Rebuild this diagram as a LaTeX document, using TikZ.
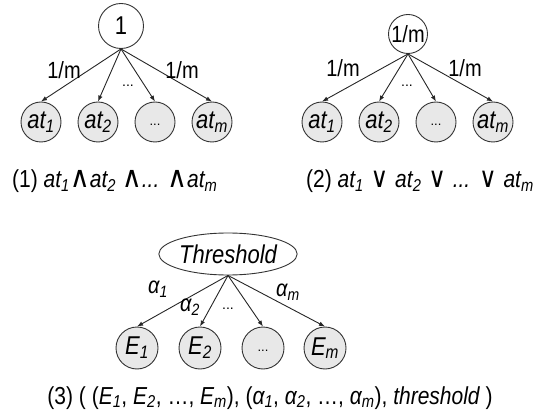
\documentclass[tikz,border=0pt]{standalone}
\usepackage{graphicx}
\usepackage{fontspec}
\setmainfont{Liberation Sans}
\newfontfamily\symfont{DejaVu Sans}
\usetikzlibrary{arrows.meta,shapes.geometric}
% text is set slightly narrow: stretch it vertically
\newcommand\tallt[1]{\scalebox{1}[1.17]{#1}}
\newcommand\isub[1]{\textsubscript{\itshape #1}}
\newcommand\andop{{\symfont\scalebox{1.3}[1.2]{∧}}}
\newcommand\orop{\hspace{1pt}{\symfont\scalebox{1.15}{∨}}\hspace{1pt}}
\newcommand\leafdots{\raisebox{-7pt}{\fontsize{13}{13}\selectfont ...}}
\begin{document}
\begin{tikzpicture}[x=1pt,y=-1pt,
  every node/.style={font=\fontsize{22}{24}\selectfont, inner sep=0pt},
  rootnode/.style={circle, draw=black!80, line width=0.9pt, fill=white},
  leaf/.style={circle, draw=black!80, line width=0.9pt, fill=black!9, minimum size=40pt},
  edge/.style={draw=black!85, line width=0.9pt, -{Latex[length=6pt,width=4.5pt]}},
  wlabel/.style={font=\fontsize{20}{22}\selectfont},
  gapdots/.style={font=\fontsize{14}{14}\selectfont},
  caption/.style={font=\fontsize{21}{23}\selectfont, anchor=base west}]
\useasboundingbox (0,0) rectangle (537,411);

% (1) conjunction
\node[rootnode, minimum size=45pt] (r1) at (121,26) {\tallt{1}};
\node[leaf] (a1) at (41,122) {\tallt{\itshape at\isub{1}}};
\node[leaf] (a2) at (98,122) {\tallt{\itshape at\isub{2}}};
\node[leaf] (a3) at (155,122) {\leafdots};
\node[leaf] (a4) at (212,122) {\tallt{\itshape at\isub{m}}};
\foreach \c in {a1,a2,a3,a4} \draw[edge] (r1.south) -- (\c.north);
\node[wlabel] (l1a) at (64,70) {\tallt{1/m}};
\node[wlabel] (l1b) at (182,70) {\tallt{1/m}};
\node[gapdots] (d1) at (128,86) {...};
\node[caption] (c1) at (12,188) {\tallt{(1) \itshape at\isub{1}\andop at\isub{2} \andop... \andop at\isub{m}}};

% (2) disjunction
\node[rootnode, minimum size=39pt] (r2) at (408,34) {\tallt{\fontsize{20}{22}\selectfont 1/m}};
\node[leaf] (b1) at (322,122) {\tallt{\itshape at\isub{1}}};
\node[leaf] (b2) at (379,122) {\tallt{\itshape at\isub{2}}};
\node[leaf] (b3) at (436,122) {\leafdots};
\node[leaf] (b4) at (493,122) {\tallt{\itshape at\isub{m}}};
\foreach \c in {b1,b2,b3,b4} \draw[edge] (r2.south) -- (\c.north);
\node[wlabel] (l2a) at (343,68) {\tallt{1/m}};
\node[wlabel] (l2b) at (465,68) {\tallt{1/m}};
\node[gapdots] (d2) at (407,86) {...};
\node[caption] (c2) at (306,188) {\tallt{(2) \itshape at\isub{1} \orop{} at\isub{2} \orop{} ... \orop{} at\isub{m}}};

% (3) threshold
\node[ellipse, draw=black!80, line width=0.9pt, fill=white, minimum width=106pt, minimum height=42pt] (r3) at (228,254) {\tallt{\itshape Threshold}};
\node[leaf, minimum size=42pt] (e1) at (137,348) {\tallt{\itshape E\isub{1}}};
\node[leaf, minimum size=42pt] (e2) at (200,348) {\tallt{\itshape E\isub{2}}};
\node[leaf, minimum size=42pt] (e3) at (263,348) {\leafdots};
\node[leaf, minimum size=42pt] (e4) at (325,348) {\tallt{\itshape E\isub{m}}};
\foreach \c in {e1,e2,e3,e4} \draw[edge] (r3.south) -- (\c.north);
\node[wlabel] (w1) at (158,289) {\tallt{\itshape α\isub{1}}};
\node[wlabel] (w2) at (190,307) {\tallt{\itshape α\isub{2}}};
\node[wlabel] (wm) at (288,292) {\tallt{\itshape α\isub{m}}};
\node[gapdots] (d3) at (228,309) {...};
\node[caption, anchor=base] (c3) at (270,404) {\tallt{(3) ( (\itshape E\isub{1}\upshape, \itshape E\isub{2}\upshape, …, \itshape E\isub{m}\upshape), (\itshape α\isub{1}\upshape, \itshape α\isub{2}\upshape, …, \itshape α\isub{m}\upshape), \itshape threshold\upshape{} )}};
\end{tikzpicture}
\end{document}
